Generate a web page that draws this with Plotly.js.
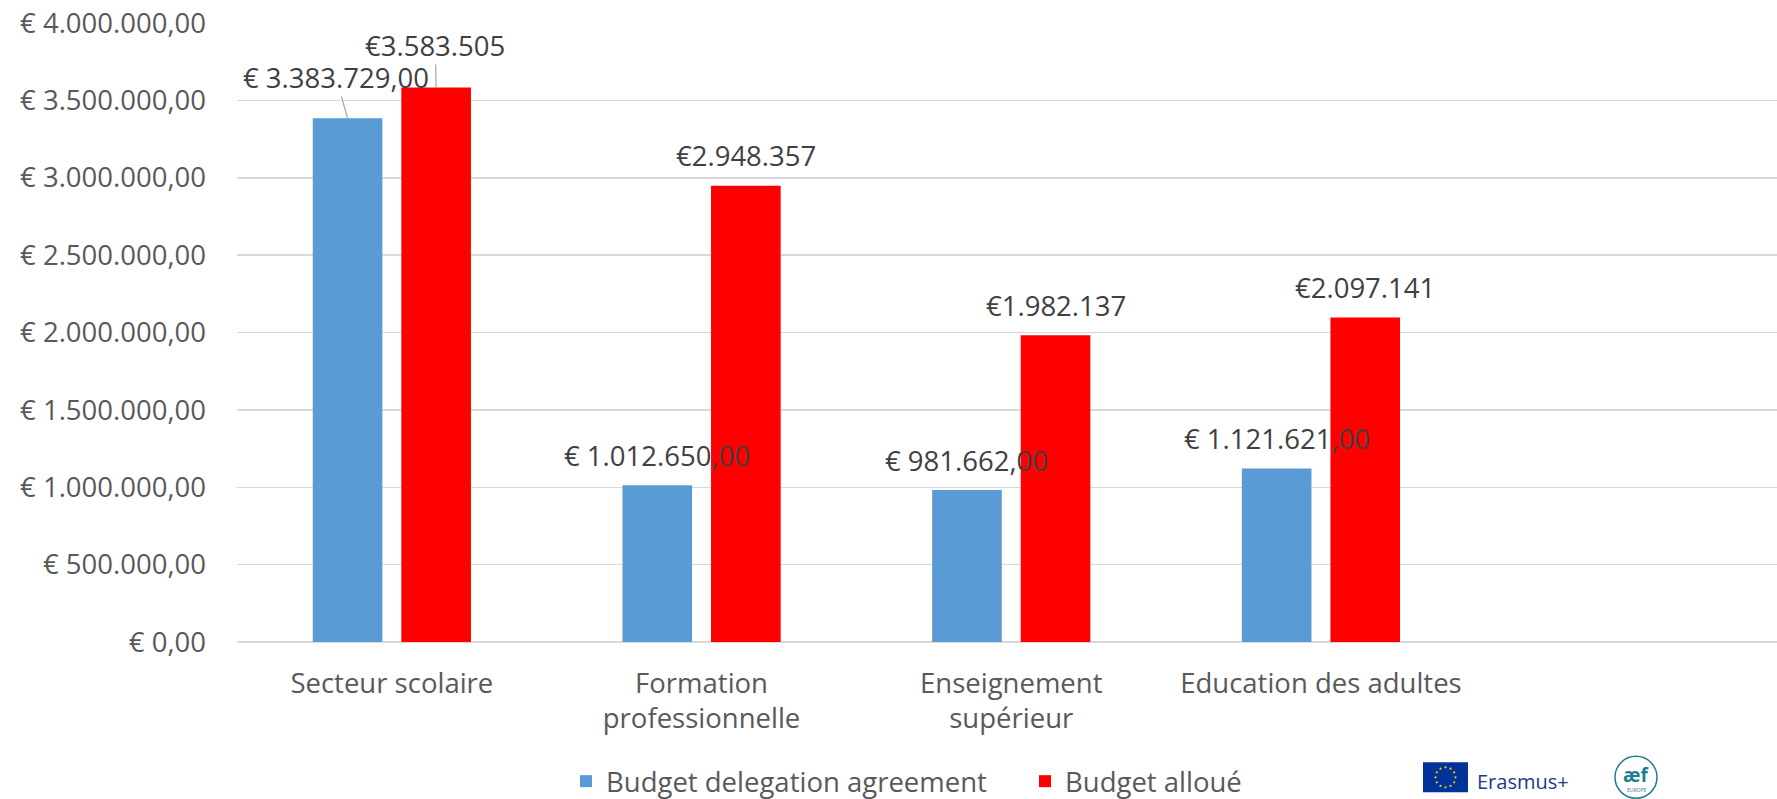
<!DOCTYPE html>
<html>
<head>
<meta charset="utf-8">
<script src="https://cdn.plot.ly/plotly-3.0.1.min.js"></script>
<style>html,body{margin:0;padding:0;background:#fff;}#chart{width:1777px;height:799px;}</style>
</head>
<body>
<div id="chart"></div>
<script>
// ---- data ----
const categories = ["Secteur scolaire", "Formation<br>professionnelle", "Enseignement<br>supérieur", "Education des adultes"];
const seriesNames = ["Budget delegation agreement", "Budget alloué"];
const budgetDelegation = [3383729, 1012650, 981662, 1121621];
const budgetAlloue = [3583505, 2948357, 1982137, 2097141];
const yTickVals = [0, 500000, 1000000, 1500000, 2000000, 2500000, 3000000, 3500000, 4000000];

// ---- layout constants ----
const W = 1777, H = 799;
const L = 237, T = 22.7, B = 641.7;
const PW = W - L, PH = B - T;
const catPx = 309.7;
const bargap = 0.428, bargroupgap = 0.214;
const FONT = "Open Sans, sans-serif";
const FS = 27.5;

function px2x(p) { return (p - L) / PW; }
function px2y(p) { return (B - p) / PH; }

function fmtThousands(v) {
  return String(Math.round(v)).replace(/\B(?=(\d{3})+(?!\d))/g, ".");
}
const fmtBlue = v => "€ " + fmtThousands(v) + ",00";
const fmtRed = v => "€" + fmtThousands(v);
const yTickText = yTickVals.map(fmtBlue);

const traces = [
  {type: "bar", name: seriesNames[0], x: categories, y: budgetDelegation,
   marker: {color: "#5b9bd5"}, hoverinfo: "y"},
  {type: "bar", name: seriesNames[1], x: categories, y: budgetAlloue,
   marker: {color: "#ff0000"}, hoverinfo: "y"}
];

// data labels
const slot = (1 - bargap) / 2;
const offsets = [-slot / 2, slot / 2];
const leader = {"0-0": [-11.5, -41], "1-0": [-1, -42]}; // series-category : [ax, ay]
const annotations = [];
[budgetDelegation, budgetAlloue].forEach((vals, s) => {
  vals.forEach((v, c) => {
    const key = s + "-" + c;
    const txt = s === 0 ? fmtBlue(v) : fmtRed(v);
    const a = {
      xref: "x", yref: "y", x: c + offsets[s], y: v, text: txt,
      font: {family: FONT, size: FS, color: "#404040"},
    };
    if (leader[key]) {
      Object.assign(a, {showarrow: true, ax: leader[key][0], ay: leader[key][1],
        arrowhead: 0, arrowwidth: 1.2, arrowcolor: "#a6a6a6", standoff: 0, borderpad: 0});
    } else {
      Object.assign(a, {showarrow: false, yshift: 30});
    }
    annotations.push(a);
  });
});

// logos (decoration)
const shapes = [];
shapes.push({type: "rect", xref: "paper", yref: "paper",
  x0: px2x(1423), x1: px2x(1468), y0: px2y(792), y1: px2y(762),
  fillcolor: "#003399", line: {width: 0}});
for (let k = 0; k < 12; k++) {
  const ang = k * Math.PI / 6;
  const cx = 1445.5 + 10 * Math.cos(ang), cy = 777 + 10 * Math.sin(ang);
  shapes.push({type: "circle", xref: "paper", yref: "paper",
    x0: px2x(cx - 1.1), x1: px2x(cx + 1.1), y0: px2y(cy + 1.1), y1: px2y(cy - 1.1),
    fillcolor: "#ffcc00", line: {width: 0}});
}
shapes.push({type: "circle", xref: "paper", yref: "paper",
  x0: px2x(1615), x1: px2x(1657), y0: px2y(798), y1: px2y(756),
  fillcolor: "rgba(0,0,0,0)", line: {color: "#1f7f8f", width: 1.5}});
annotations.push({xref: "paper", yref: "paper", x: px2x(1475), y: px2y(781),
  xanchor: "left", yanchor: "middle", showarrow: false, text: "Erasmus+",
  font: {family: FONT, size: 20, color: "#24388a"}});
annotations.push({xref: "paper", yref: "paper", x: px2x(1636), y: px2y(775),
  xanchor: "center", yanchor: "middle", showarrow: false, text: "<b>æf</b>",
  font: {family: FONT, size: 19, color: "#1f7f8f"}});
annotations.push({xref: "paper", yref: "paper", x: px2x(1636), y: px2y(790),
  xanchor: "center", yanchor: "middle", showarrow: false, text: "EUROPE",
  font: {family: FONT, size: 5, color: "#1f7f8f"}});

const layout = {
  width: W, height: H,
  margin: {l: L, r: 0, t: T, b: H - B, pad: 0, autoexpand: false},
  paper_bgcolor: "#ffffff", plot_bgcolor: "#ffffff",
  barmode: "group", bargap: bargap, bargroupgap: bargroupgap,
  font: {family: FONT, size: FS, color: "#595959"},
  showlegend: true,
  legend: {orientation: "h", x: px2x(566), xanchor: "left", y: px2y(781), yanchor: "middle",
    font: {family: FONT, size: FS, color: "#595959"}, bgcolor: "rgba(0,0,0,0)",
    traceorder: "normal", entrywidth: 414, entrywidthmode: "pixels"},
  xaxis: {type: "category", range: [-0.5, (W - L) / catPx - 0.5], fixedrange: true,
    showgrid: false, showline: false, zeroline: false, ticks: "",
    ticklabelstandoff: 22, tickfont: {family: FONT, size: FS, color: "#595959"}, automargin: false},
  yaxis: {range: [0, 4000000], tickmode: "array", tickvals: yTickVals, ticktext: yTickText,
    showgrid: true, gridcolor: "#d9d9d9", gridwidth: 1.5, zeroline: true, zerolinecolor: "#d9d9d9",
    zerolinewidth: 1.5, showline: false, ticks: "", ticklabelstandoff: 30,
    tickfont: {family: FONT, size: FS, color: "#595959"}, automargin: false, fixedrange: true},
  annotations: annotations,
  shapes: shapes
};

Plotly.newPlot("chart", traces, layout, {displayModeBar: false, staticPlot: true});
</script>
</body>
</html>
